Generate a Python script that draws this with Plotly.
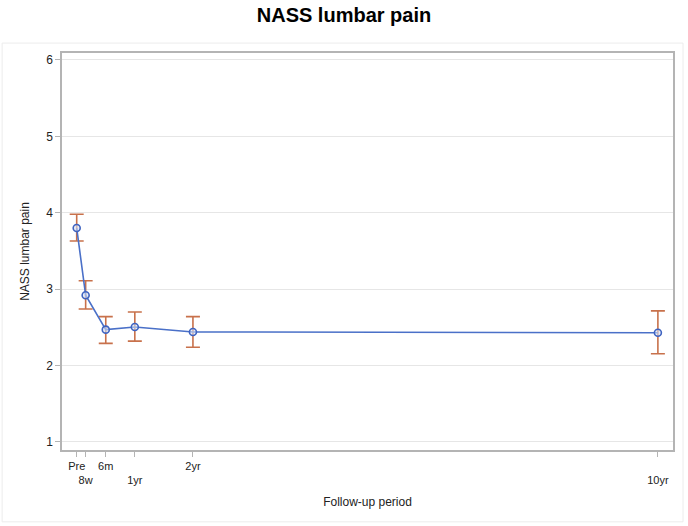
import plotly.graph_objects as go

# Data
labels = ["Pre", "8w", "6m", "1yr", "2yr", "10yr"]
years = [0.0, 0.154, 0.5, 1.0, 2.0, 10.0]
means = [3.80, 2.92, 2.47, 2.505, 2.44, 2.43]
upper = [3.98, 3.11, 2.64, 2.70, 2.64, 2.715]
lower = [3.63, 2.74, 2.29, 2.32, 2.24, 2.155]
label_row = [0, 1, 0, 1, 0, 1]  # staggered tick labels

err_plus = [u - m for u, m in zip(upper, means)]
err_minus = [m - l for m, l in zip(means, lower)]
ticktext = [("<br>" + t) if r else t for t, r in zip(labels, label_row)]

fig = go.Figure()
fig.add_trace(go.Scatter(
    x=years, y=means, mode="lines+markers",
    line=dict(color="#4a70c8", width=1.6),
    marker=dict(symbol="circle", size=7, color="rgba(215,225,245,0.6)",
                line=dict(color="#3f63c0", width=1.6)),
    error_y=dict(type="data", symmetric=False, array=err_plus, arrayminus=err_minus,
                 color="#c8714b", thickness=1.6, width=7),
    showlegend=False,
))

fig.update_layout(
    width=688, height=526,
    margin=dict(l=62, r=15, t=53, b=76),
    paper_bgcolor="white", plot_bgcolor="white",
    font=dict(family="Arial, Liberation Sans, sans-serif", color="#222"),
    title=dict(text="<b>NASS lumbar pain</b>", x=0.5, xanchor="center",
               y=0.972, yanchor="middle", font=dict(size=20, color="black")),
    xaxis=dict(range=[-0.253, 10.26], tickmode="array", tickvals=years, ticktext=ticktext,
               tickangle=0,
               showgrid=False, zeroline=False, showline=True, linecolor="#b4b4b4",
               linewidth=1.5, mirror=True, ticks="outside", ticklen=5, tickcolor="#b4b4b4",
               tickfont=dict(size=11, color="#222"),
               title=dict(text="Follow-up period", font=dict(size=12, color="#222"), standoff=12)),
    yaxis=dict(range=[0.895, 6.09], tickvals=[1, 2, 3, 4, 5, 6],
               showgrid=True, gridcolor="#e6e6e6", gridwidth=1, zeroline=False,
               showline=True, linecolor="#b4b4b4", linewidth=1.5, mirror=True,
               ticks="outside", ticklen=5, tickcolor="#b4b4b4",
               tickfont=dict(size=12, color="#222"),
               title=dict(text="NASS lumbar pain", font=dict(size=12, color="#222"), standoff=14)),
    shapes=[dict(type="rect", xref="paper", yref="paper",
                 x0=-0.098, x1=1.0164, y0=-0.181, y1=1.025,
                 line=dict(color="#ececec", width=1), layer="below")],
)

fig.write_html("out.html")
